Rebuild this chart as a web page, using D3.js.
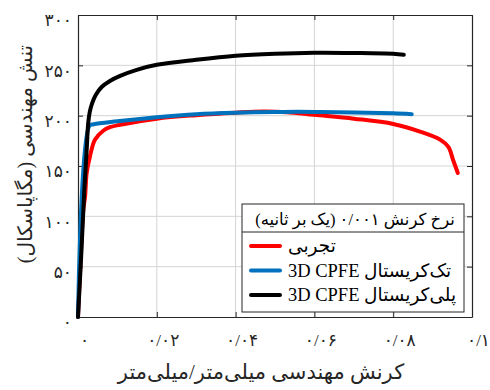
<!DOCTYPE html>
<html>
<head>
<meta charset="utf-8">
<script src="https://cdn.jsdelivr.net/npm/d3@7"></script>
<style>
  body { margin: 0; background: #fff; }
  text { font-family: "Liberation Serif", "DejaVu Sans", serif; }
</style>
</head>
<body>
<div id="vis"></div>
<script>
// strain (mm/mm) and stress (MPa)
var redStrain = [0, 0.0007, 0.0013, 0.0018, 0.0022, 0.003, 0.0043, 0.0064, 0.0081, 0.0107, 0.02, 0.03, 0.04, 0.047, 0.053, 0.06, 0.07, 0.08, 0.087, 0.092, 0.094, 0.0952, 0.0964];
var redStress = [0, 60, 105, 120, 143, 159, 176, 185, 188.5, 191, 197, 200.5, 203, 204.2, 203.5, 200.8, 197, 191.8, 184, 176, 169, 156, 143];

var blueStrain = [0, 0.0029, 0.004, 0.01, 0.02, 0.03, 0.04, 0.05, 0.06, 0.07, 0.08, 0.0847];
var blueStress = [0, 190, 191.5, 194.5, 198.5, 201.5, 203, 203.7, 203.7, 203.2, 202.3, 201.5];

var blackStrain = [0, 0.0008, 0.0016, 0.0022, 0.0026, 0.003, 0.0036, 0.0045, 0.006, 0.0081, 0.0107, 0.0149, 0.02, 0.03, 0.04, 0.05, 0.06, 0.07, 0.08, 0.0827];
var blackStress = [0, 60, 126, 166, 193, 204, 212.5, 220.5, 228.5, 234.5, 239.5, 245.5, 250.5, 255.5, 259.5, 261.5, 262.5, 262.3, 261.5, 260.5];

var xTicks = [0, 0.02, 0.04, 0.06, 0.08, 0.1];
var xTickLabels = ["۰", "۰/۰۲", "۰/۰۴", "۰/۰۶", "۰/۰۸", "۰/۱"];
var yTicks = [0, 50, 100, 150, 200, 250, 300];
var yTickLabels = ["۰", "۵۰", "۱۰۰", "۱۵۰", "۲۰۰", "۲۵۰", "۳۰۰"];

var seriesNames = ["تجربی", "تک‌کریستال 3D CPFE", "پلی‌کریستال 3D CPFE"];
var seriesColors = ["#ff0000", "#0072bd", "#000000"];
var legendTitle = "نرخ کرنش ۰/۰۰۱ (یک بر ثانیه)";
var xTitle = "کرنش مهندسی میلی‌متر/میلی‌متر";
var yTitle = "تنش مهندسی (مگاپاسکال)";

var theMargins = { top: 15, right: 18, bottom: 73, left: 78 };
var width = 490 - theMargins.left - theMargins.right;
var height = 390 - theMargins.top - theMargins.bottom;

var x = d3.scaleLinear().domain([0, 0.1]).range([0, width]);
var y = d3.scaleLinear().domain([0, 300]).range([height, 0]);

var chart = d3.select('#vis').append('svg')
    .attr("width", 490)
    .attr("height", 390);
var vis = chart.append('g')
    .attr("transform", "translate(" + theMargins.left + "," + theMargins.top + ")");

// grid
vis.append("g").selectAll("line").data(xTicks.slice(1, -1)).enter().append("line")
    .attr("x1", function(d) { return x(d); }).attr("x2", function(d) { return x(d); })
    .attr("y1", 0).attr("y2", height)
    .attr("stroke", "#d4d4d4").attr("stroke-width", 1);
vis.append("g").selectAll("line").data(yTicks.slice(1, -1)).enter().append("line")
    .attr("y1", function(d) { return y(d); }).attr("y2", function(d) { return y(d); })
    .attr("x1", 0).attr("x2", width)
    .attr("stroke", "#d4d4d4").attr("stroke-width", 1);

// axes, ticks pointing inward on all sides
var xAxis = d3.axisBottom(x).tickValues(xTicks).tickSizeInner(-5).tickSizeOuter(0)
    .tickFormat(function(d, i) { return xTickLabels[i]; });
var yAxis = d3.axisLeft(y).tickValues(yTicks).tickSizeInner(-5).tickSizeOuter(0)
    .tickFormat(function(d, i) { return yTickLabels[i]; });

var gx = vis.append("g")
    .attr("transform", "translate(0," + height + ")")
    .call(xAxis);
gx.selectAll("text")
    .attr("y", 23).attr("dy", "0.35em").attr("dx", 6)
    .attr("font-size", 17).attr("fill", "#262626");

var gy = vis.append("g").call(yAxis);
gy.selectAll("text")
    .attr("x", -6).attr("y", 5).attr("dy", "0.35em")
    .attr("font-size", 17).attr("fill", "#262626");

vis.append("g")
    .call(d3.axisTop(x).tickValues(xTicks).tickSizeInner(-5).tickSizeOuter(0).tickFormat(""));
vis.append("g")
    .attr("transform", "translate(" + width + ",0)")
    .call(d3.axisRight(y).tickValues(yTicks).tickSizeInner(-5).tickSizeOuter(0).tickFormat(""));

vis.selectAll(".domain").attr("stroke", "#262626").attr("stroke-width", 1.2);
vis.selectAll(".tick line").attr("stroke", "#262626");

// curves
var line = d3.line()
    .x(function(d) { return x(d[0]); })
    .y(function(d) { return y(d[1]); })
    .curve(d3.curveCatmullRom.alpha(0.5));

var series = [
    d3.zip(redStrain, redStress),
    d3.zip(blueStrain, blueStress),
    d3.zip(blackStrain, blackStress)
];

vis.append("g").selectAll("path").data(series).enter().append("path")
    .attr("d", line)
    .attr("fill", "none")
    .attr("stroke", function(d, i) { return seriesColors[i]; })
    .attr("stroke-width", 4)
    .attr("stroke-linejoin", "round")
    .attr("stroke-linecap", "round");

// legend
var lx = 242 - theMargins.left, ly = 204 - theMargins.top, lw = 222, lh = 108;
var legend = vis.append("g").attr("transform", "translate(" + lx + "," + ly + ")");
legend.append("rect")
    .attr("width", lw).attr("height", lh)
    .attr("fill", "#fff").attr("stroke", "#262626").attr("stroke-width", 1);
legend.append("line")
    .attr("x1", 0).attr("x2", lw).attr("y1", 28).attr("y2", 28)
    .attr("stroke", "#262626").attr("stroke-width", 1);
legend.append("text")
    .attr("x", lw / 2 + 2).attr("y", 15).attr("dy", "0.35em")
    .attr("text-anchor", "middle").attr("direction", "rtl")
    .attr("font-size", 16.5).attr("fill", "#000")
    .text(legendTitle);

var entry = legend.selectAll(".entry").data(seriesNames).enter().append("g")
    .attr("transform", function(d, i) { return "translate(0," + (42 + i * 24.5) + ")"; });
entry.append("line")
    .attr("x1", 9).attr("x2", 38).attr("y1", 0).attr("y2", 0)
    .attr("stroke", function(d, i) { return seriesColors[i]; })
    .attr("stroke-width", 4).attr("stroke-linecap", "round");
entry.append("text")
    .attr("x", 46).attr("dy", "0.35em")
    .attr("text-anchor", "end").attr("direction", "rtl")
    .attr("font-size", 18.5).attr("fill", "#000")
    .text(function(d) { return d; });

// axis titles
vis.append("text")
    .attr("x", 261 - theMargins.left).attr("y", 372 - theMargins.top).attr("dy", "0.35em")
    .attr("text-anchor", "middle").attr("direction", "rtl")
    .attr("font-size", 21).attr("fill", "#262626")
    .text(xTitle);

vis.append("text")
    .attr("transform", "translate(" + (25 - theMargins.left) + "," + (154 - theMargins.top) + ") rotate(-90)")
    .attr("dy", "0.35em")
    .attr("text-anchor", "middle").attr("direction", "rtl")
    .attr("font-size", 20).attr("fill", "#262626")
    .text(yTitle);
</script>
</body>
</html>
